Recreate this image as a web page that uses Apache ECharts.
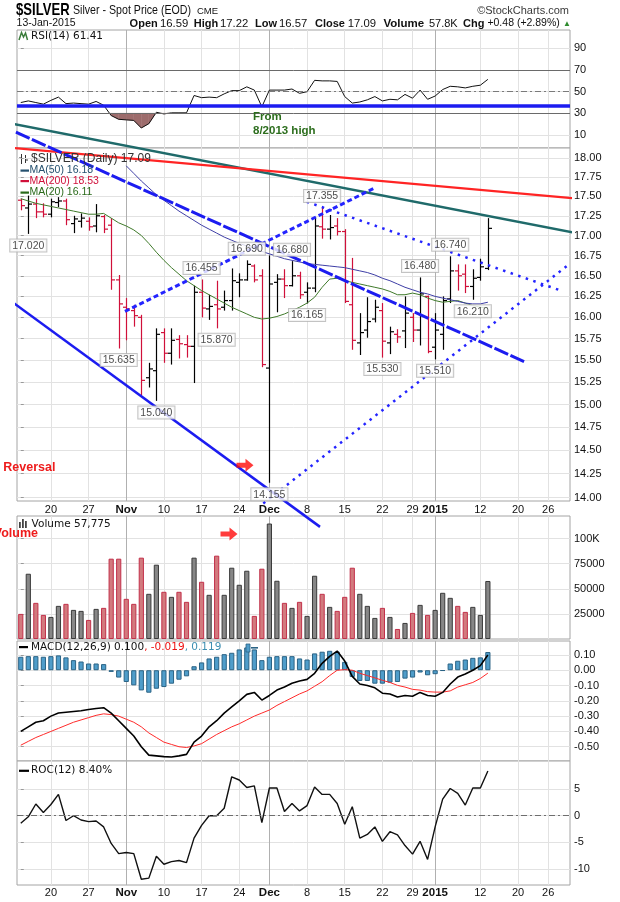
<!DOCTYPE html>
<html><head><meta charset="utf-8">
<script src="https://cdn.jsdelivr.net/npm/echarts@6.0.0/dist/echarts.min.js"></script>
<style>html,body{margin:0;padding:0;background:#fff}#c{width:620px;height:902px}</style>
</head><body><div id="c"></div>
<script>
// ---------------- DATA ----------------
const dates = ['2014-10-14','2014-10-15','2014-10-16','2014-10-17','2014-10-20','2014-10-21','2014-10-22','2014-10-23','2014-10-24','2014-10-27','2014-10-28','2014-10-29','2014-10-30','2014-10-31',
'2014-11-03','2014-11-04','2014-11-05','2014-11-06','2014-11-07','2014-11-10','2014-11-11','2014-11-12','2014-11-13','2014-11-14','2014-11-17','2014-11-18','2014-11-19','2014-11-20','2014-11-21','2014-11-24','2014-11-25','2014-11-26','2014-11-28',
'2014-12-01','2014-12-02','2014-12-03','2014-12-04','2014-12-05','2014-12-08','2014-12-09','2014-12-10','2014-12-11','2014-12-12','2014-12-15','2014-12-16','2014-12-17','2014-12-18','2014-12-19','2014-12-22','2014-12-23','2014-12-24','2014-12-26','2014-12-29','2014-12-30','2014-12-31',
'2015-01-02','2015-01-05','2015-01-06','2015-01-07','2015-01-08','2015-01-09','2015-01-12','2015-01-13',
'2015-01-14','2015-01-15','2015-01-16','2015-01-20','2015-01-21','2015-01-22','2015-01-23','2015-01-26','2015-01-27','2015-01-28','2015-01-29'];

const open  = [17.45,17.35,17.40,17.30,17.27,17.42,17.44,17.15,17.18,17.18, 17.12,17.24,17.13,16.45,16.12,16.08,16.00,15.30,15.38,15.82, 15.58,15.74,15.68,15.66,16.30,16.10,16.15,16.12,16.20,16.42, 16.45,16.62,16.50,15.41,16.42,16.46,16.38,16.50,16.30,16.35, 17.11,17.08,17.12,17.05,16.15,15.70,15.85,15.98,16.08,15.70, 15.80,15.84,16.00,15.85,16.25,15.65,15.80,16.22,16.56,16.52, 16.37,16.48,16.59];
const high  = [17.47,17.51,17.47,17.41,17.47,17.49,17.47,17.25,17.28,17.23, 17.40,17.26,17.22,16.51,16.23,16.15,16.03,15.47,15.87,15.87, 15.87,15.79,15.79,16.38,16.455,16.27,16.44,16.32,16.59,16.53, 16.69,16.64,16.58,16.75,16.52,16.58,16.68,16.55,16.42,17.23, 17.355,17.26,17.22,17.08,16.72,16.05,16.24,16.21,16.17,15.89, 15.86,16.25,16.05,16.48,16.26,16.05,16.25,16.74,16.64,16.64, 16.58,16.71,17.22];
const low   = [17.32,17.02,17.22,17.23,17.23,17.36,17.13,17.03,17.10,17.06, 17.04,17.03,16.33,15.635,15.73,15.89,15.10,15.19,15.04,15.47, 15.45,15.52,15.53,15.24,16.00,15.97,15.87,16.08,16.08,16.24, 16.44,16.42,15.42,14.155,16.06,16.23,16.37,16.22,16.165,16.30, 16.96,16.95,17.00,16.17,15.62,15.56,15.76,15.94,15.53,15.57, 15.70,15.64,15.71,15.67,15.58,15.51,15.62,16.17,16.32,16.29, 16.21,16.44,16.57];
const close = [17.38,17.40,17.30,17.27,17.43,17.44,17.20,17.21,17.22,17.11, 17.25,17.08,16.45,16.16,16.10,16.02,15.27,15.40,15.80,15.58, 15.73,15.69,15.66,16.30,16.11,16.13,16.10,16.20,16.44,16.45, 16.64,16.45,15.45,16.40,16.46,16.38,16.50,16.27,16.35,17.12, 17.08,17.10,17.05,16.19,15.73,15.82,15.95,16.12,15.72,15.83, 15.77,16.05,15.85,16.28,15.60,15.85,16.20,16.56,16.50,16.37, 16.47,16.61,17.09];
const prevClose = 17.45;

const volume = [25000,65000,36000,24000,22000,33000,35000,29000,28000,19000, 30000,31000,80000,80000,40000,35000,81000,45000,74000,47000, 42000,47000,37000,81000,57000,44000,83000,44000,71000,54000, 68000,23000,70000,115000,58000,36000,31000,37000,23000,63000, 45000,32000,28000,42000,71000,45000,33000,21000,31000,22000, 10000,16000,26000,34000,24000,29000,46000,41000,33000,27000, 32000,24000,57775];

const ma20 = [17.47,17.44,17.41,17.39,17.37,17.35,17.33,17.31,17.29,17.27, 17.27,17.28,17.22,17.16,17.12,17.07,17.00,16.90,16.79,16.69, 16.60,16.52,16.44,16.38,16.32,16.27,16.22,16.17,16.12,16.08, 16.04,16.00,15.98,15.99,16.01,16.04,16.08,16.12,16.17,16.24, 16.36,16.46,16.47,16.44,16.42,16.40,16.38,16.36,16.34,16.31, 16.27,16.27,16.29,16.27,16.23,16.20,16.18,16.19,16.20,16.17, 16.14,16.12,16.11];
const ma50 = [null,null,null,null,null,null,null,null,null,null,null,null,null,null,
 17.90,17.80,17.70,17.61,17.52,17.45,17.38,17.31,17.25,17.19, 17.13,17.08,17.03,16.98,16.94,16.90,16.87,16.84,16.80,16.77, 16.74,16.71,16.69,16.67,16.65,16.64,16.63,16.62,16.61,16.60, 16.58,16.56,16.54,16.51,16.47,16.44,16.40,16.36,16.33,16.30, 16.28,16.25,16.23,16.21,16.19,16.17,16.16,16.16,16.18];
const ma200Last = 18.53;

const rsi = [40,41.5,40,38.5,42,45,39,39.5,39,38.5, 41,37.5,28,24.5,24,23.5,16.5,20.5,31,29.5, 30.5,30.5,30.5,46.5,44.5,45,44.5,48,51,51, 54.5,51.5,36,51.5,51.5,51.5,52.5,48.5,50,60.5, 60,60,59.5,45.5,39.5,40.5,42.5,45.5,41.5,43, 42.5,47.5,44,51.5,43,46,52,55,54.5,53.5, 55,56,61.41];
const rsiSupport = 36.7;
const rsiOversold = 30;

const macd = [-0.40,-0.37,-0.34,-0.33,-0.30,-0.28,-0.275,-0.27,-0.265,-0.257, -0.25,-0.245,-0.28,-0.33,-0.38,-0.43,-0.50,-0.555,-0.56,-0.565, -0.567,-0.56,-0.55,-0.47,-0.43,-0.37,-0.33,-0.28,-0.24,-0.20, -0.158,-0.145,-0.195,-0.165,-0.13,-0.11,-0.085,-0.07,-0.06,-0.02, 0.045,0.09,0.125,0.06,-0.04,-0.09,-0.10,-0.115,-0.15,-0.155, -0.175,-0.165,-0.17,-0.145,-0.165,-0.17,-0.145,-0.09,-0.045,-0.025, 0.0,0.03,0.100];
const macdSignal = [-0.49,-0.465,-0.44,-0.42,-0.40,-0.38,-0.36,-0.34,-0.325,-0.31, -0.295,-0.285,-0.29,-0.30,-0.32,-0.34,-0.37,-0.41,-0.44,-0.47, -0.485,-0.50,-0.505,-0.495,-0.48,-0.45,-0.42,-0.395,-0.37,-0.35, -0.325,-0.30,-0.28,-0.26,-0.23,-0.205,-0.18,-0.155,-0.135,-0.105, -0.075,-0.035,0.0,0.004,0.0,-0.02,-0.035,-0.05,-0.066,-0.08, -0.099,-0.11,-0.125,-0.13,-0.14,-0.143,-0.143,-0.135,-0.11,-0.095, -0.08,-0.054,-0.019];
const macdHist = [0.088,0.092,0.092,0.088,0.092,0.097,0.084,0.066,0.057,0.044, 0.044,0.040,-0.011,-0.048,-0.077,-0.099,-0.132,-0.147,-0.121,-0.110, -0.088,-0.062,-0.040,0.026,0.051,0.077,0.088,0.105,0.114,0.136, 0.149,0.136,0.066,0.088,0.092,0.092,0.092,0.077,0.070,0.110, 0.121,0.127,0.121,0.055,-0.044,-0.070,-0.070,-0.088,-0.088,-0.081, -0.077,-0.055,-0.048,-0.015,-0.033,-0.026,-0.004,0.044,0.062,0.070, 0.081,0.084,0.119];

const roc = [-1.4,-0.2,2.2,0.6,2.1,4.0,-0.9,0.0,-0.8,-1.1, -1.0,-2.1,-5.2,-7.1,-6.9,-7.1,-11.9,-11.7,-7.6,-9.1, -8.6,-8.4,-8.8,-4.2,-1.8,0.0,0.0,1.4,7.3,6.7, 5.3,5.6,-1.3,5.2,5.2,0.8,2.3,0.9,1.9,5.4, 4.0,4.0,2.3,-1.6,1.7,-4.2,-3.5,-2.1,-4.8,-3.0, -3.6,-5.6,-7.2,-4.8,-8.2,-2.1,3.1,5.1,4.2,2.0, 5.2,5.2,8.40];

// tick labels
const priceTicks = [14.00,14.25,14.50,14.75,15.00,15.25,15.50,15.75,16.00,16.25,16.50,16.75,17.00,17.25,17.50,17.75,18.00];
const rsiTicks = [10,30,50,70,90];
const volTicks = [25000,50000,75000,100000];
const volTickLabels = ['25000','50000','75000','100K'];
const macdTicks = [0.10,0.00,-0.10,-0.20,-0.30,-0.40,-0.50];
const rocTicks = [5,0,-5,-10];
const xTickIdx  = [4,9,14,19,24,29,33,38,43,48,52,55,61,66,70];
const xTickText = ['20','27','Nov','10','17','24','Dec','8','15','22','29','2015','12','20','26'];
const monthIdx = [14,33,55];

// annotations (date index, value)
const peakHighIdx = [24,30,36,40,53,57];
const peakLowIdx  = [1,13,18,26,33,38,48,55,60];
const trendTeal       = [[-2.76,18.50],[74.9,17.01]];
const trendRed        = [[-2.76,18.155],[73.83,17.47]];
const trendLowerSolid = [[-2.76,16.29],[39.72,13.70]];
const trendUpperDash  = [[-2.76,18.45],[66.93,15.48]];
const trendRiseDash   = [[13.83,16.07],[46.79,17.60]];
const trendFallDot    = [[37.95,17.43],[72.01,16.31]];
const trendRiseDot    = [[32.19,13.94],[72.9,16.65]];
const reversalArrow = [29.76,14.34];
const volumeArrow = [27.64,104500];

// ---------------- CHART ----------------
const L = Math.log;
const last = close.length - 1;
const isDown = close.map((c,i)=> c < (i ? close[i-1] : prevClose));
const RED = '#d0103a';
const FONT = '"Liberation Sans", Arial, sans-serif';
const LFONT = '"DejaVu Sans", Verdana, sans-serif';
const SPLIT = '#e2e2e2';
const MONTH = '#b0b0b0';
const BLUE = '#1c1cf0';

const panels = [
  {top:30,  height:118, min:-2,    max:107},
  {top:148, height:353, min:L(13.965), max:L(18.138)},
  {top:516, height:123, min:0,     max:122500},
  {top:641, height:120, min:-0.5933, max:0.191},
  {top:761, height:124, min:-12.99, max:10.26},
];
const XMIN = -0.5, XMAX = 72.9;

const grid = panels.map(p=>({left:17, right:50, top:p.top, height:p.height, show:true,
  borderColor:'#a4a4a4', borderWidth:1, backgroundColor:'#fff', containLabel:false, outerBoundsMode:'none'}));

const xLabel = v => {
  const k = xTickIdx.indexOf(Math.round(v));
  if (k < 0) return '';
  const t = xTickText[k];
  return monthIdx.includes(xTickIdx[k]) ? '{b|' + t + '}' : t;
};
const xAxis = [];
panels.forEach((p,i)=>{
  xAxis.push({type:'value', gridIndex:i, min:XMIN, max:XMAX, position:'bottom',
    axisLine:{show:false}, axisTick:{show:false, customValues:xTickIdx},
    axisLabel:{show:(i===1||i===4), customValues:xTickIdx, formatter:xLabel, margin:(i===1?3:2),
      color:'#111', fontSize:11, fontFamily:FONT,
      rich:{b:{fontWeight:'bold', fontSize:11.5, fontFamily:FONT, color:'#111'}}},
    splitLine:{show:true, lineStyle:{color:SPLIT, width:1}}});
});
panels.forEach((p,i)=>{
  xAxis.push({type:'value', gridIndex:i, min:XMIN, max:XMAX, position:'top', show:true,
    axisLine:{show:false}, axisTick:{show:false, customValues:monthIdx},
    axisLabel:{show:false, customValues:monthIdx},
    splitLine:{show:true, lineStyle:{color:MONTH, width:1}}});
});

const yCommon = (i, ticks, fmt) => ({type:'value', gridIndex:i, position:'right', min:panels[i].min, max:panels[i].max,
  axisLine:{show:false},
  axisTick:{show:true, length:3, customValues:ticks, lineStyle:{color:'#999'}},
  axisLabel:{customValues:ticks, formatter:fmt, color:'#111', fontSize:11, fontFamily:FONT, margin:4},
  splitLine:{show:true, lineStyle:{color:SPLIT, width:1}}});
const yAxis = [
  yCommon(0, rsiTicks, v=>String(Math.round(v))),
  yCommon(1, priceTicks.map(L), v=>Math.exp(v).toFixed(2)),
  yCommon(2, volTicks, v=>{ let k=0,b=1e12; volTicks.forEach((t,j)=>{ if(Math.abs(t-v)<b){b=Math.abs(t-v);k=j;} }); return volTickLabels[k]; }),
  yCommon(3, macdTicks, v=>(Math.abs(v)<1e-9?0:v).toFixed(2)),
  yCommon(4, rocTicks, v=>String(Math.round(v))),
];

const idx = a => a.map((v,i)=>[i,v]);
const trend = (pts, color, width, type) => ({type:'line', xAxisIndex:1, yAxisIndex:1, clip:false, silent:true, z:4,
  symbol:'none', data:pts.map(p=>[p[0], L(p[1])]), lineStyle:{color, width, type:type||'solid'}});
const ARROW = 'path://M0,4L9,4L9,0L17,6.5L9,13L9,9L0,9Z';

// oversold fill (area between RSI and 30 where RSI < 30), one segment per item
const rsiSegs = rsi.slice(0, -1).map((v,i)=>[i, v, rsi[i+1]]);
const oversoldRender = (params, api) => {
  const i = api.value(0), a = api.value(1), b = api.value(2), T0 = rsiOversold;
  if (a >= T0 && b >= T0) return null;
  const pts = [];
  let xs = i, xe = i + 1;
  if (a < T0) pts.push([i, a]); else { xs = i + (T0 - a) / (b - a); pts.push([xs, T0]); }
  if (b < T0) pts.push([i+1, b]); else { xe = i + (T0 - a) / (b - a); pts.push([xe, T0]); }
  pts.push([xe, T0]); pts.push([xs, T0]);
  return {type:'polygon', shape:{points:pts.map(p=>api.coord(p))}, style:{fill:'#9d6c6c', stroke:'#9d6c6c', lineWidth:0.5}};
};

const series = [
  // RSI
  {type:'custom', xAxisIndex:0, yAxisIndex:0, silent:true, z:1, data:rsiSegs, encode:{x:0, y:1}, renderItem:oversoldRender},
  {type:'line', xAxisIndex:0, yAxisIndex:0, symbol:'none', data:idx(rsi), lineStyle:{color:'#111', width:1}, z:3,
   markLine:{silent:true, symbol:['none','none'], label:{show:false}, data:[
     {yAxis:70, lineStyle:{color:'#6a6a6a', width:1, type:'solid'}},
     {yAxis:rsiOversold, lineStyle:{color:'#6a6a6a', width:1, type:'solid'}},
     {yAxis:50, lineStyle:{color:'#7a7a7a', width:1, type:[6,3,2,3]}},
     {yAxis:rsiSupport, lineStyle:{color:BLUE, width:3.5, type:'solid'}}
   ]}},
  // Price OHLC
  {type:'custom', xAxisIndex:1, yAxisIndex:1, z:3,
   data: close.map((c,i)=>[i, L(open[i]), L(high[i]), L(low[i]), L(c), isDown[i]?1:0]),
   encode:{x:0, y:[1,2,3,4]},
   renderItem:(params, api)=>{
     const i = api.value(0);
     const o = api.coord([i, api.value(1)]);
     const h = api.coord([i, api.value(2)]);
     const l = api.coord([i, api.value(3)]);
     const c = api.coord([i, api.value(4)]);
     const col = api.value(5) ? RED : '#000';
     const x = Math.round(h[0]) + 0.5;
     const st = {stroke:col, lineWidth:1.2};
     return {type:'group', children:[
       {type:'line', shape:{x1:x, y1:h[1], x2:x, y2:l[1]}, style:st},
       {type:'line', shape:{x1:x-3.5, y1:o[1], x2:x, y2:o[1]}, style:st},
       {type:'line', shape:{x1:x, y1:c[1], x2:x+3.5, y2:c[1]}, style:st}
     ]};
   }},
  {type:'line', xAxisIndex:1, yAxisIndex:1, symbol:'none', z:3, data:ma20.map((v,i)=>[i, L(v)]), lineStyle:{color:'#3f7a2a', width:1}},
  {type:'line', xAxisIndex:1, yAxisIndex:1, symbol:'none', z:3, data:ma50.map((v,i)=>[i, v==null?null:L(v)]), lineStyle:{color:'#3e3ea6', width:1}},
  trend(trendTeal, '#1f6a6a', 2.4),
  trend(trendRed, '#ff2424', 2.2),
  trend(trendLowerSolid, BLUE, 2.5),
  trend(trendUpperDash, BLUE, 3, [15,2.5]),
  trend(trendRiseDash, '#2424ff', 3, [5,3]),
  trend(trendFallDot, '#2424ff', 2.5, [2.5,5.5]),
  trend(trendRiseDot, '#2424ff', 2.5, [2.5,5]),
  {type:'scatter', xAxisIndex:1, yAxisIndex:1, symbol:'circle', symbolSize:1, itemStyle:{color:'rgba(0,0,0,0)'}, z:6, silent:true,
   data:[...peakHighIdx.map(i=>({value:[i, L(high[i])], name:high[i].toFixed(3), label:{position:'top'}})),
         ...peakLowIdx.map(i=>({value:[i, L(low[i])], name:low[i].toFixed(3), label:{position:'bottom'}}))],
   label:{show:true, formatter:p=>p.name, distance:5, fontSize:10.5, fontFamily:FONT, color:'#1a1a1a',
     backgroundColor:'#fff', borderColor:'#b4b4b4', borderWidth:1, padding:[1,2,0,2]},
   labelLayout:{hideOverlap:false}},
  {type:'scatter', xAxisIndex:1, yAxisIndex:1, symbol:ARROW, symbolSize:[17,13], z:7, silent:true,
   itemStyle:{color:'#ff0a0a'}, data:[[reversalArrow[0], L(reversalArrow[1])]]},
  // Volume
  {type:'bar', xAxisIndex:2, yAxisIndex:2, barWidth:5.2,
   data:volume.map((v,i)=>({value:[i,v], itemStyle:{color:isDown[i]?'#d27a7e':'#878787', borderColor:isDown[i]?'#c2304a':'#3a3a3a', borderWidth:1}}))},
  {type:'scatter', xAxisIndex:2, yAxisIndex:2, symbol:ARROW, symbolSize:[17,13], z:7, silent:true,
   itemStyle:{color:'#ff0a0a'}, data:[volumeArrow]},
  // MACD
  {type:'bar', xAxisIndex:3, yAxisIndex:3, barWidth:5.2, data:idx(macdHist),
   itemStyle:{color:'#4f9dca', borderColor:'#2b6385', borderWidth:1}},
  {type:'line', xAxisIndex:3, yAxisIndex:3, symbol:'none', data:idx(macdSignal), lineStyle:{color:'#ff2a2a', width:1}},
  {type:'line', xAxisIndex:3, yAxisIndex:3, symbol:'none', data:idx(macd), lineStyle:{color:'#000', width:1.6}},
  // ROC
  {type:'line', xAxisIndex:4, yAxisIndex:4, symbol:'none', data:idx(roc), lineStyle:{color:'#111', width:1.4},
   markLine:{silent:true, symbol:['none','none'], label:{show:false},
     data:[{yAxis:0, lineStyle:{color:'#6e6e6e', width:1, type:[6,3,2,3]}}]}}
];

// ---------------- TEXT / LEGENDS ----------------
const T = (x, y, text, font, fill, extra, align) => Object.assign({type:'text', x, y, z:20, silent:true,
  style:{text, font, fill, verticalAlign:'middle', textVerticalAlign:'middle', align:align||'left', textAlign:align||'left'}}, extra||{});
const chg = close[last] - close[last-1];
const pct = chg / close[last-1] * 100;
const sgn = v => (v>=0?'+':'') + v.toFixed(2);
const dash = (x, y, w, color) => ({type:'rect', z:20, silent:true, shape:{x, y:y-1, width:w, height:2.2}, style:{fill:color}});

const graphic = [
  T(16, 10.5, '$SILVER', 'bold 17px ' + FONT, '#000', {scaleX:0.77}),
  T(73, 11, 'Silver - Spot Price (EOD)', '12.5px ' + FONT, '#111', {scaleX:0.85}),
  T(197, 11.5, 'CME', '9.5px ' + FONT, '#111'),
  T(569, 11, '\u00A9StockCharts.com', '11px ' + FONT, '#3a3a3a', null, 'right'),
  T(16.6, 23.5, '13-Jan-2015', '10.5px ' + FONT, '#111'),
  T(129.6, 23.5, 'Open', 'bold 11px ' + FONT, '#111'),
  T(160, 23.5, open[last].toFixed(2), '11.3px ' + FONT, '#111'),
  T(193.7, 23.5, 'High', 'bold 11px ' + FONT, '#111'),
  T(220, 23.5, high[last].toFixed(2), '11.3px ' + FONT, '#111'),
  T(255, 23.5, 'Low', 'bold 11px ' + FONT, '#111'),
  T(279, 23.5, low[last].toFixed(2), '11.3px ' + FONT, '#111'),
  T(315, 23.5, 'Close', 'bold 11px ' + FONT, '#111'),
  T(347.8, 23.5, close[last].toFixed(2), '11.3px ' + FONT, '#111'),
  T(383.4, 23.5, 'Volume', 'bold 11.5px ' + FONT, '#111'),
  T(428.9, 23.5, (volume[last]/1000).toFixed(1) + 'K', '11px ' + FONT, '#111'),
  T(463, 23.5, 'Chg', 'bold 11px ' + FONT, '#111'),
  T(487.4, 23.5, sgn(chg) + ' (' + sgn(pct) + '%)', '10.5px ' + FONT, '#111'),
  T(563, 24, '\u25B2', '8px ' + FONT, '#2e8b2e'),
  // RSI legend
  {type:'polyline', z:20, silent:true, shape:{points:[[19,40],[21.5,32.5],[23.5,37],[25.5,33],[27.5,40]]}, style:{stroke:'#3b7d3b', lineWidth:1.5, fill:'none'}},
  T(31, 36.5, 'RSI(14) ' + rsi[last].toFixed(2), '10.5px ' + LFONT, '#111'),
  T(253, 116.7, 'From', 'bold 11.5px ' + FONT, '#2d6e1e'),
  T(253, 130.5, '8/2013 high', 'bold 11.5px ' + FONT, '#2d6e1e'),
  // Price legend
  {type:'group', z:20, silent:true, children:[
    {type:'line', shape:{x1:21.5, y1:154, x2:21.5, y2:164}, style:{stroke:'#333', lineWidth:1}},
    {type:'line', shape:{x1:19, y1:158, x2:21.5, y2:158}, style:{stroke:'#333', lineWidth:1}},
    {type:'line', shape:{x1:25.5, y1:155, x2:25.5, y2:163}, style:{stroke:'#333', lineWidth:1}},
    {type:'line', shape:{x1:25.5, y1:160, x2:28, y2:160}, style:{stroke:'#333', lineWidth:1}}
  ]},
  T(31, 159, '$SILVER (Daily) ' + close[last].toFixed(2), '12px ' + FONT, '#333'),
  dash(20.5, 170.5, 8.5, '#24506e'),
  T(29.5, 170.5, 'MA(50) ' + ma50[last].toFixed(2), '10.5px ' + FONT, '#24506e'),
  dash(20.5, 181, 8.5, '#d0103a'),
  T(29.5, 181, 'MA(200) ' + ma200Last.toFixed(2), '10.5px ' + FONT, '#d0103a'),
  dash(20.5, 192.5, 8.5, '#2a6a1a'),
  T(29.5, 192.5, 'MA(20) ' + ma20[last].toFixed(2), '10.5px ' + FONT, '#2a6a1a'),
  T(3.3, 467.7, 'Reversal', 'bold 12.5px ' + FONT, '#ee1c1c'),
  // Volume legend
  {type:'group', z:20, silent:true, children:[
    {type:'rect', shape:{x:19, y:522, width:1.8, height:6}, style:{fill:'#444'}},
    {type:'rect', shape:{x:22, y:519, width:1.8, height:9}, style:{fill:'#444'}},
    {type:'rect', shape:{x:25, y:521, width:1.8, height:7}, style:{fill:'#444'}}
  ]},
  T(31.6, 524.5, 'Volume ' + volume[last].toLocaleString('en-US'), '10.5px ' + LFONT, '#111'),
  T(38, 533.5, 'Volume', 'bold 12.5px ' + FONT, '#ee1c1c', null, 'right'),
  // MACD legend
  dash(19, 647, 9, '#000'),
  {type:'text', x:31, y:647, z:20, silent:true, style:{
    text:'{k|MACD(12,26,9) ' + macd[last].toFixed(3) + '}{r|, ' + macdSignal[last].toFixed(3) + '}{b|, ' + macdHist[last].toFixed(3) + '}',
    verticalAlign:'middle', textVerticalAlign:'middle', font:'10.5px ' + LFONT,
    rich:{k:{fill:'#111', font:'10.5px ' + LFONT}, r:{fill:'#ee1111', font:'10.5px ' + LFONT}, b:{fill:'#3d8fb2', font:'10.5px ' + LFONT}}}},
  {type:'rect', z:20, silent:true, shape:{x:246, y:644, width:4, height:8}, style:{fill:'#4f9dca', stroke:'#2b6385', lineWidth:0.8}},
  {type:'rect', z:20, silent:true, shape:{x:251, y:647, width:7, height:1.6}, style:{fill:'#2b6385'}},
  // ROC legend
  dash(19, 770.7, 10, '#000'),
  T(31, 770.7, 'ROC(12) ' + roc[last].toFixed(2) + '%', '10.5px ' + LFONT, '#111')
];

const chart = echarts.init(document.getElementById('c'), null, {renderer:'canvas', width:620, height:902});
chart.setOption({animation:false, backgroundColor:'#fff', grid, xAxis, yAxis, series, graphic});
</script></body></html>
